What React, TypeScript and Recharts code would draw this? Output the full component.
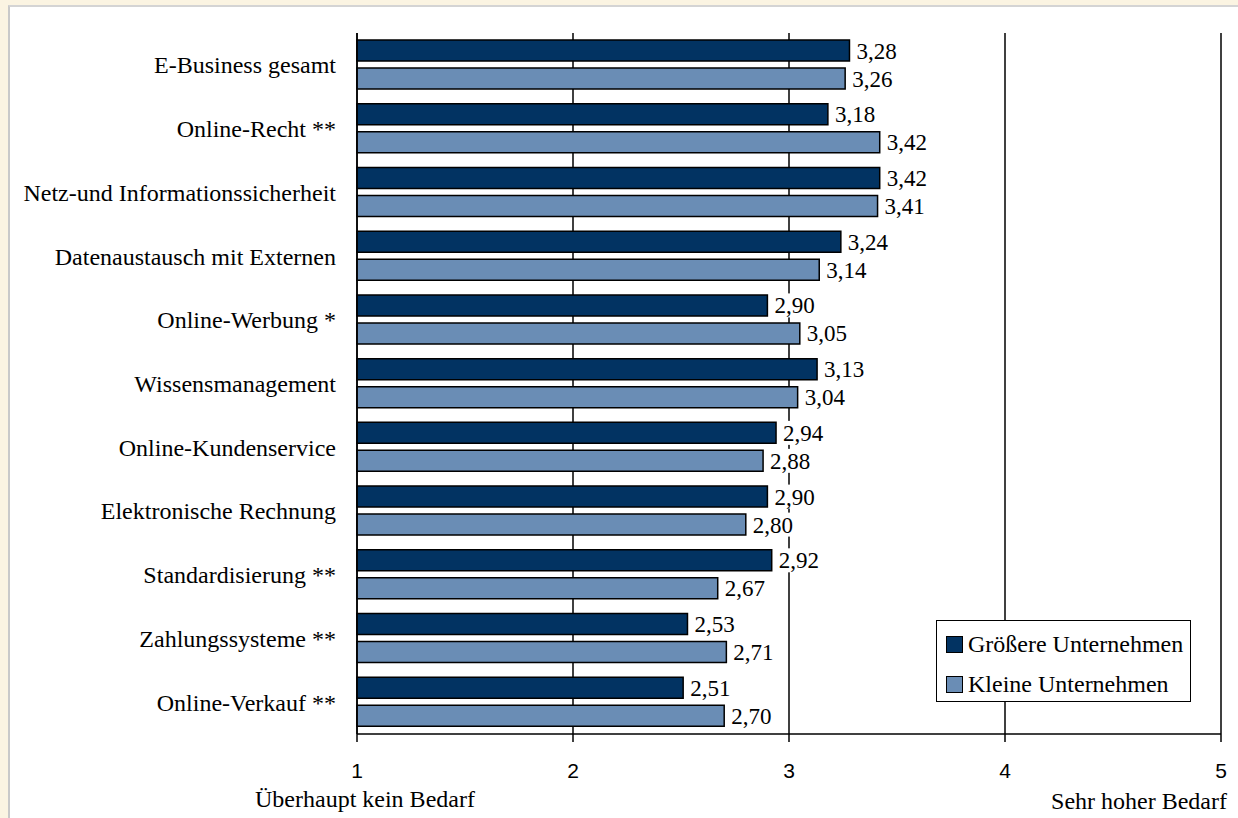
import {Bar, BarChart, CartesianGrid, LabelList, XAxis, YAxis} from 'recharts';

document.body.style.margin = '0';

const categories = [
    'E-Business gesamt',
    'Online-Recht **',
    'Netz-und Informationssicherheit',
    'Datenaustausch mit Externen',
    'Online-Werbung *',
    'Wissensmanagement',
    'Online-Kundenservice',
    'Elektronische Rechnung',
    'Standardisierung **',
    'Zahlungssysteme **',
    'Online-Verkauf **',
];
const groessere = [3.28, 3.18, 3.42, 3.24, 2.90, 3.13, 2.94, 2.90, 2.92, 2.53, 2.51];
const kleine = [3.26, 3.42, 3.41, 3.14, 3.05, 3.04, 2.88, 2.80, 2.67, 2.71, 2.70];
const xTicks = [1, 2, 3, 4, 5];
const boundaryTicks = [0, 1, 2, 3, 4, 5, 6, 7, 8, 9, 10, 11];
const seriesNames = ['Größere Unternehmen', 'Kleine Unternehmen'];

const SERIF = '"Liberation Serif", "Times New Roman", serif';
const SANS = '"Liberation Sans", Arial, sans-serif';
const DARK = '#023362';
const LIGHT = '#6a8db5';

const data = categories.map((name, i) => ({name, groessere: groessere[i], kleine: kleine[i]}));

const fmt = (v: number) => v.toFixed(2).replace('.', ',');

const ValueLabel = (props: any) => {
    const {x, y, width, height, value} = props;
    const tx = x + width + 7;
    const cy = y + height / 2;
    return (
        <g>
            <rect x={tx - 1} y={cy - 12} width={44} height={24} fill="#fff"/>
            <text x={tx} y={cy} dy="0.35em" fontFamily={SERIF} fontSize={23} fill="#000">{fmt(value)}</text>
        </g>
    );
};

const LegendBox = () => (
    <div style={{
        position: 'absolute', left: 936, top: 620,
        width: 255, height: 82, border: '1.5px solid #000', background: '#fff',
        fontFamily: SERIF, fontSize: 24, color: '#000', boxSizing: 'border-box',
    }}>
        {[DARK, LIGHT].map((c, i) => (
            <div key={c} style={{display: 'flex', alignItems: 'center', marginLeft: 9, marginTop: i === 0 ? 8 : 10, height: 30}}>
                <span style={{width: 17, height: 17, background: c, border: '1.5px solid #000', marginRight: 5, boxSizing: 'border-box'}}/>
                <span>{seriesNames[i]}</span>
            </div>
        ))}
    </div>
);

export default function App() {
    return (
        <div style={{position: 'relative', width: 1238, height: 818, background: '#fbf4e2', overflow: 'hidden'}}>
            <div style={{
                position: 'absolute', left: 8, top: 5, right: 0, bottom: 0, background: '#fff',
                borderLeft: '2px solid #c9c9c9', borderTop: '2px solid #d4d4d4',
            }}/>
            <div style={{position: 'absolute', left: 0, top: 0}}>
                <BarChart width={1238} height={818} data={data} layout="vertical"
                          margin={{top: 33, right: 17, bottom: 44, left: 0}}
                          barSize={21} barGap={7}>
                    <CartesianGrid horizontal={false} vertical stroke="#000" strokeWidth={1.5}/>
                    <XAxis type="number" domain={[1, 5]} ticks={xTicks} height={40}
                           axisLine={{stroke: '#000', strokeWidth: 1.5}}
                           tickLine={{stroke: '#000', strokeWidth: 1.5}} tickSize={8} tickMargin={21}
                           tick={{fontFamily: SANS, fontSize: 21, fill: '#000'}}/>
                    <XAxis xAxisId="top" orientation="top" type="number" domain={[1, 5]} height={0}
                           tick={false} tickLine={false} axisLine={{stroke: '#000', strokeWidth: 1.5}}/>
                    <YAxis yAxisId="bounds" type="number" domain={[0, 11]} ticks={boundaryTicks} width={0}
                           tick={false} axisLine={false} tickSize={7}
                           tickLine={{stroke: '#000', strokeWidth: 1.5}}/>
                    <YAxis type="category" dataKey="name" width={357}
                           axisLine={{stroke: '#000', strokeWidth: 1.5}} tickLine={false}
                           tickSize={0} tickMargin={21}
                           tick={{fontFamily: SERIF, fontSize: 24, fill: '#000'}}/>
                    <Bar dataKey="groessere" name={seriesNames[0]} fill={DARK} stroke="#000" strokeWidth={1.5}
                         isAnimationActive={false}>
                        <LabelList dataKey="groessere" content={<ValueLabel/>}/>
                    </Bar>
                    <Bar dataKey="kleine" name={seriesNames[1]} fill={LIGHT} stroke="#000" strokeWidth={1.5}
                         isAnimationActive={false}>
                        <LabelList dataKey="kleine" content={<ValueLabel/>}/>
                    </Bar>
                </BarChart>
            </div>
            <LegendBox/>
            <div style={{position: 'absolute', left: 255, top: 786, fontFamily: SERIF, fontSize: 24, color: '#000', lineHeight: '26px'}}>
                Überhaupt kein Bedarf
            </div>
            <div style={{position: 'absolute', right: 11, top: 788, fontFamily: SERIF, fontSize: 24, color: '#000', lineHeight: '26px'}}>
                Sehr hoher Bedarf
            </div>
        </div>
    );
}
